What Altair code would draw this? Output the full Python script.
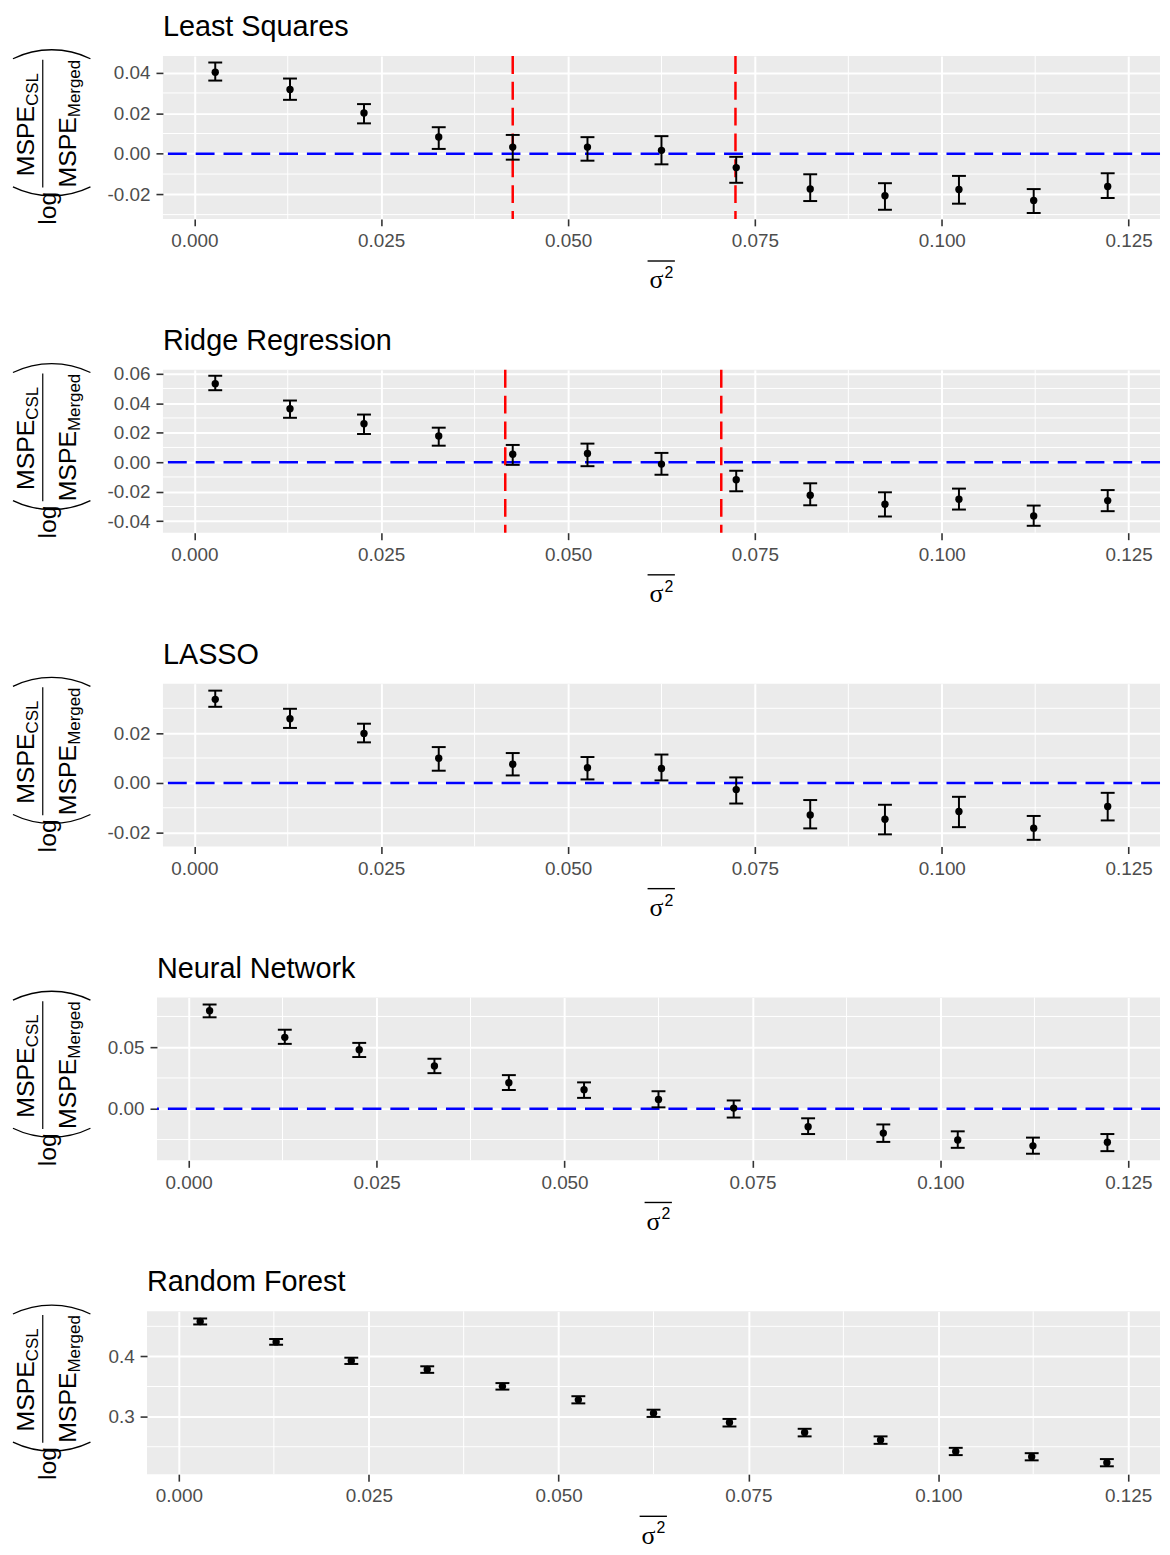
import altair as alt
import pandas as pd

# ---------------- data ----------------
sigma_bar = [0.0028, 0.0128, 0.0227, 0.0327, 0.0426, 0.0526, 0.0625,
             0.0725, 0.0824, 0.0924, 0.1023, 0.1123, 0.1222]

ls_mean = [0.0402, 0.0317, 0.0201, 0.0083, 0.0033, 0.0033, 0.0017, -0.0068, -0.0173, -0.0207, -0.0176, -0.0230, -0.0161]
ls_lo = [0.0361, 0.0266, 0.0150, 0.0024, -0.0029, -0.0034, -0.0052, -0.0143, -0.0233, -0.0276, -0.0246, -0.0292, -0.0218]
ls_hi = [0.0450, 0.0371, 0.0245, 0.0131, 0.0093, 0.0082, 0.0087, -0.0015, -0.0101, -0.0145, -0.0109, -0.0174, -0.0096]
ls_vlines = [0.0426, 0.0724]

ridge_mean = [0.0532, 0.0362, 0.0261, 0.0178, 0.0054, 0.0059, -0.0013, -0.0119, -0.0224, -0.0285, -0.0251, -0.0364, -0.0260]
ridge_lo = [0.0488, 0.0301, 0.0191, 0.0112, -0.0018, -0.0027, -0.0085, -0.0197, -0.0292, -0.0368, -0.0321, -0.0431, -0.0332]
ridge_hi = [0.0586, 0.0418, 0.0323, 0.0234, 0.0117, 0.0126, 0.0063, -0.0058, -0.0143, -0.0204, -0.0179, -0.0294, -0.0189]
ridge_vlines = [0.0416, 0.0705]

lasso_mean = [0.0336, 0.0258, 0.0199, 0.0099, 0.0075, 0.0061, 0.0058, -0.0027, -0.0129, -0.0146, -0.0115, -0.0182, -0.0095]
lasso_lo = [0.0306, 0.0221, 0.0163, 0.0049, 0.0030, 0.0014, 0.0010, -0.0083, -0.0183, -0.0207, -0.0178, -0.0229, -0.0151]
lasso_hi = [0.0371, 0.0298, 0.0238, 0.0144, 0.0120, 0.0104, 0.0114, 0.0022, -0.0069, -0.0088, -0.0056, -0.0133, -0.0040]

nn_mean = [0.0796, 0.0580, 0.0479, 0.0347, 0.0211, 0.0155, 0.0075, 0.0005, -0.0147, -0.0198, -0.0254, -0.0302, -0.0273]
nn_lo = [0.0743, 0.0527, 0.0420, 0.0289, 0.0152, 0.0088, 0.0011, -0.0072, -0.0206, -0.0270, -0.0318, -0.0366, -0.0345]
nn_hi = [0.0847, 0.0642, 0.0535, 0.0406, 0.0273, 0.0214, 0.0142, 0.0067, -0.0078, -0.0128, -0.0184, -0.0235, -0.0206]

rf_mean = [0.4580, 0.4241, 0.3930, 0.3782, 0.3503, 0.3279, 0.3056, 0.2902, 0.2738, 0.2613, 0.2421, 0.2334, 0.2236]
rf_lo = [0.4531, 0.4192, 0.3875, 0.3727, 0.3449, 0.3220, 0.2995, 0.2836, 0.2672, 0.2548, 0.2361, 0.2274, 0.2175]
rf_hi = [0.4630, 0.4290, 0.3979, 0.3836, 0.3557, 0.3339, 0.3115, 0.2962, 0.2798, 0.2672, 0.2482, 0.2393, 0.2295]

titles = ["Least Squares", "Ridge Regression", "LASSO", "Neural Network", "Random Forest"]

x_domain = [-0.0042, 0.1292]
x_major = [0.0, 0.025, 0.05, 0.075, 0.1, 0.125]
x_minor = [0.0125, 0.0375, 0.0625, 0.0875, 0.1125]

y_domains = [[-0.0321, 0.0482], [-0.0478, 0.0626], [-0.0256, 0.0399], [-0.0420, 0.0904], [0.2044, 0.4749]]
y_major = [[-0.02, 0.0, 0.02, 0.04], [-0.04, -0.02, 0.0, 0.02, 0.04, 0.06], [-0.02, 0.0, 0.02], [0.0, 0.05], [0.3, 0.4]]
y_minor = [[-0.03, -0.01, 0.01, 0.03], [-0.03, -0.01, 0.01, 0.03, 0.05], [-0.01, 0.01, 0.03], [-0.025, 0.025, 0.075], [0.25, 0.35, 0.45]]
y_formats = [".2f", ".2f", ".2f", ".2f", ".1f"]
hlines = [[0.0], [0.0], [0.0], [0.0], []]
vlines = [ls_vlines, ridge_vlines, [], [], []]

# ---------------- styling / layout ----------------
FONT = "Liberation Sans"
SERIF = "Liberation Serif"
PLOT_RIGHT = 1167
PLOT_LEFTS = [163, 163, 163, 157, 147]
H = 164


def one():
    return pd.DataFrame({"k": [0]})


def txt(text, x, y, size, angle=0, align="left", font=FONT):
    return alt.Chart(one()).mark_text(
        text=text, fontSize=size, font=font, angle=angle, align=align,
        baseline="alphabetic", color="black"
    ).encode(x=alt.value(x), y=alt.value(y))


def arc(cx, cy, t0, t1, r):
    return alt.Chart(one()).mark_arc(
        theta=t0, theta2=t1, radius=r, radius2=r, stroke="black",
        strokeWidth=1.3, fillOpacity=0
    ).encode(x=alt.value(cx), y=alt.value(cy))


def label_expr(fmt):
    return "replace(format(datum.value, '%s'), '\u2212', '-')" % fmt


def panel(i, mean, lo, hi):
    L = PLOT_LEFTS[i]
    W = PLOT_RIGHT - L
    xs = alt.Scale(domain=x_domain, nice=False, zero=False)
    ys = alt.Scale(domain=y_domains[i], nice=False, zero=False)
    axis_common = dict(
        title=None, domain=False, grid=True, gridColor="white", gridWidth=2,
        tickColor="#333333", tickSize=7, tickWidth=1.6,
        labelFont=FONT, labelFontSize=19, labelColor="#4D4D4D",
    )
    xaxis = alt.Axis(values=x_major, labelExpr=label_expr(".3f"), labelPadding=6, **axis_common)
    yaxis = alt.Axis(values=y_major[i], labelExpr=label_expr(y_formats[i]), labelPadding=6, **axis_common)

    def X(f):
        return alt.X(f + ":Q", scale=xs, axis=xaxis)

    def Y(f):
        return alt.Y(f + ":Q", scale=ys, axis=yaxis)

    df = pd.DataFrame({"x": sigma_bar, "m": mean, "lo": lo, "hi": hi})
    base = alt.Chart(df)

    layers = []
    layers.append(alt.Chart(pd.DataFrame({"x": x_minor})).mark_rule(color="white", strokeWidth=1)
                  .encode(x=X("x")))
    layers.append(alt.Chart(pd.DataFrame({"y": y_minor[i]})).mark_rule(color="white", strokeWidth=1)
                  .encode(y=Y("y")))
    if hlines[i]:
        layers.append(alt.Chart(pd.DataFrame({"y": hlines[i]})).mark_rule(
            color="#0000FF", strokeWidth=2.5, strokeDash=[19, 9]).encode(y=Y("y")))
    if vlines[i]:
        layers.append(alt.Chart(pd.DataFrame({"x": vlines[i]})).mark_rule(
            color="#FF0000", strokeWidth=2.5, strokeDash=[18, 8]).encode(x=X("x")))
    layers.append(base.mark_rule(color="black", strokeWidth=2).encode(
        x=X("x"), y=Y("lo"), y2="hi:Q"))
    for f in ["lo", "hi"]:
        layers.append(base.mark_tick(orient="horizontal", size=14, thickness=2, color="black", opacity=1)
                      .encode(x=X("x"), y=Y(f)))
    layers.append(base.mark_circle(size=55, color="black", opacity=1).encode(x=X("x"), y=Y("m")))

    # panel title
    layers.append(txt(titles[i], 0, -20, 29))

    # y-axis title: log( MSPE_CSL / MSPE_Merged ), rotated
    num_start = 121
    den_start = 132.4
    w_mspe = 25 * 2.834
    layers.append(txt("MSPE", 33 - L, num_start, 25, angle=270))
    layers.append(txt("CSL", 37 - L, num_start - w_mspe, 17, angle=270))
    layers.append(txt("MSPE", 75 - L, den_start, 25, angle=270))
    layers.append(txt("Merged", 79 - L, den_start - w_mspe, 17, angle=270))
    layers.append(alt.Chart(one()).mark_rule(color="black", strokeWidth=1.2).encode(
        x=alt.value(42 - L), y=alt.value(3.7), y2=alt.value(132.4)))
    layers.append(txt("log", 55 - L, 153.2, 25, angle=270, align="center"))
    r = 89
    a = 0.4536
    two_pi = 6.283185307
    layers.append(arc(51 - L, -6.3 + r, two_pi - a, two_pi + a, r))
    layers.append(arc(51 - L, 140.7 - r, 3.14159265 - a, 3.14159265 + a, r))

    # x-axis title: overline sigma squared
    layers.append(txt("\u03c3", W / 2 - 5, H + 70, 26, align="center", font=SERIF))
    layers.append(txt("2", W / 2 + 7.5, H + 59.5, 16, align="center"))
    layers.append(alt.Chart(one()).mark_rule(color="black", strokeWidth=1.4).encode(
        x=alt.value(W / 2 - 14), x2=alt.value(W / 2 + 13.5), y=alt.value(H + 42.4)))

    return alt.layer(*layers).properties(width=W, height=H)


def spacer():
    return alt.Chart(one()).mark_rule(opacity=0).encode(x=alt.value(0)).properties(
        width=1, height=1, view=alt.ViewBackground(fillOpacity=0, strokeOpacity=0))


series = [(ls_mean, ls_lo, ls_hi), (ridge_mean, ridge_lo, ridge_hi), (lasso_mean, lasso_lo, lasso_hi),
          (nn_mean, nn_lo, nn_hi), (rf_mean, rf_lo, rf_hi)]

rows = [alt.hconcat(spacer(), panel(i, *s), spacing=1) for i, s in enumerate(series)]

chart = alt.vconcat(*rows, spacing=34).properties(
    padding={"left": 0, "top": 0, "right": 0, "bottom": 0}
).configure_view(fill="#EBEBEB", strokeWidth=0)

chart.save("out.html", embed_options={"renderer": "svg", "actions": False})
